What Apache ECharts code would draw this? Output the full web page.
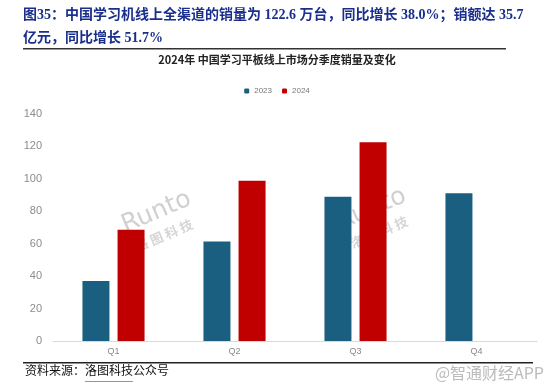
<!DOCTYPE html>
<html><head><meta charset="utf-8">
<script src="https://cdn.jsdelivr.net/npm/echarts@6/dist/echarts.min.js"></script>
<style>html,body{margin:0;padding:0;background:#fff}#c{width:554px;height:382px}</style>
</head><body><div id="c"></div>
<script>
const categories = ['Q1', 'Q2', 'Q3', 'Q4'];
const series2023 = [37, 61.3, 88.9, 91.2];
const series2024 = [68.6, 98.8, 122.6, null];
const seriesNames = ['2023', '2024'];
const yTicks = { min: 0, max: 140, interval: 20 };
const titleLine1 = '图35：中国学习机线上全渠道的销量为 122.6 万台，同比增长 38.0%；销额达 35.7';
const titleLine2 = '亿元，同比增长 51.7%';
const chartTitle = '2024年 中国学习平板线上市场分季度销量及变化';
const sourceText = '资料来源：';
const sourceLink = '洛图科技';
const sourceTail = '公众号';

const chart = echarts.init(document.getElementById('c'));
const serifCJK = '"Liberation Serif","Noto Sans CJK SC",serif';
const wm = (x, y) => ({
  type: 'group', x: x, y: y, rotation: 0.4, silent: true, z: 100,
  children: [
    { type: 'text', style: { text: 'Runto', x: 0, y: 0, fill: 'rgba(170,170,170,0.55)', font: '25px "DejaVu Sans"' } },
    { type: 'text', style: { text: '洛 图 科 技', x: 4, y: 30, fill: 'rgba(185,185,185,0.6)', font: 'bold 13px "Noto Sans CJK SC"' } }
  ]
});
chart.setOption({
  animation: false,
  color: ['#1b5f80', '#c00000'],
  grid: { left: 53, right: 17, top: 114, bottom: 41 },
  legend: {
    data: seriesNames, top: 82, left: 'center', itemWidth: 5, itemHeight: 5, itemGap: 10,
    textStyle: { fontSize: 8, color: '#777' }
  },
  xAxis: {
    type: 'category', data: categories,
    axisLine: { lineStyle: { color: '#d9d9d9' } },
    axisTick: { show: false },
    axisLabel: { color: '#888', fontSize: 9, margin: 6 }
  },
  yAxis: {
    type: 'value', min: yTicks.min, max: yTicks.max, interval: yTicks.interval,
    axisLine: { show: false }, axisTick: { show: false },
    splitLine: { show: false },
    axisLabel: { color: '#8c8c8c', fontSize: 11, margin: 11 }
  },
  series: [
    { name: seriesNames[0], type: 'bar', data: series2023, barWidth: 27, barGap: '30%' },
    { name: seriesNames[1], type: 'bar', data: series2024, barWidth: 27, barGap: '30%' }
  ],
  graphic: [
    { type: 'text', left: 23, top: 8, style: { text: titleLine1, fill: '#1a2e8c', font: 'bold 14px ' + serifCJK } },
    { type: 'text', left: 23, top: 31, style: { text: titleLine2, fill: '#1a2e8c', font: 'bold 14px ' + serifCJK } },
    { type: 'rect', shape: { x: 23, y: 48, width: 483, height: 1.5 }, style: { fill: '#333' } },
    { type: 'text', left: 'center', top: 54, style: { text: chartTitle, fill: '#222', font: 'bold 11px "Noto Sans CJK SC"' } },
    wm(118, 215), wm(333, 212),
    { type: 'rect', shape: { x: 23, y: 362, width: 510, height: 1.5 }, style: { fill: '#222' } },
    { type: 'text', left: 25, top: 366, style: { text: sourceText + sourceLink + sourceTail, fill: '#111', font: '12px ' + serifCJK } },
    { type: 'rect', shape: { x: 85, y: 381, width: 48, height: 1 }, style: { fill: '#3bb5d8' } },
    { type: 'text', right: 10, top: 365, style: { text: '@智通财经APP', fill: 'rgba(170,170,170,0.8)', font: '16px "Noto Sans CJK SC"' } }
  ]
});
</script></body></html>
